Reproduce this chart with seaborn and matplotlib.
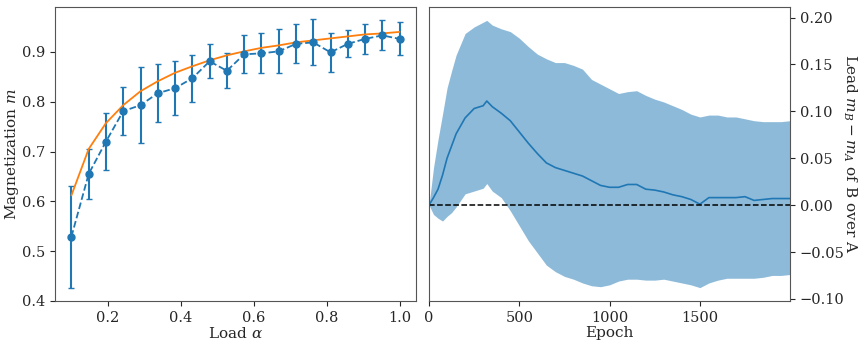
import numpy as np
import pandas as pd
import matplotlib
matplotlib.use('Agg')
import matplotlib.pyplot as plt
import seaborn as sns

# left panel: magnetization vs load
alpha = np.linspace(0.1, 1.0, 20)
m_mean = [0.529, 0.655, 0.720, 0.781, 0.793, 0.817, 0.827, 0.847, 0.881, 0.862,
          0.895, 0.897, 0.901, 0.916, 0.919, 0.899, 0.916, 0.926, 0.933, 0.926]
m_err = [0.102, 0.050, 0.057, 0.048, 0.076, 0.058, 0.054, 0.047, 0.034, 0.035,
         0.038, 0.040, 0.044, 0.039, 0.046, 0.039, 0.027, 0.030, 0.030, 0.033]
m_theory = [0.612, 0.705, 0.757, 0.793, 0.821, 0.841, 0.858, 0.871, 0.883, 0.893,
            0.901, 0.908, 0.913, 0.919, 0.923, 0.927, 0.931, 0.935, 0.937, 0.940]

# right panel: lead of B over A during training
epochs = [0, 25, 50, 75, 100, 125, 150, 200, 250, 300, 320, 350, 400, 450, 500,
          550, 600, 650, 700, 750, 800, 850, 900, 950, 1000, 1050, 1100, 1150,
          1200, 1250, 1300, 1350, 1400, 1450, 1500, 1550, 1600, 1650, 1700,
          1750, 1800, 1850, 1900, 1950, 1999]
lead_mean = [0.0, 0.008, 0.017, 0.032, 0.050, 0.063, 0.076, 0.093, 0.103, 0.106,
             0.111, 0.105, 0.098, 0.090, 0.078, 0.066, 0.055, 0.045, 0.040, 0.037,
             0.034, 0.031, 0.026, 0.021, 0.019, 0.019, 0.022, 0.022, 0.017, 0.016,
             0.014, 0.011, 0.009, 0.006, 0.001, 0.008, 0.008, 0.008, 0.008, 0.009,
             0.005, 0.006, 0.007, 0.007, 0.007]
lead_upper = [0.0, 0.040, 0.070, 0.097, 0.125, 0.143, 0.160, 0.183, 0.190, 0.195,
              0.197, 0.192, 0.188, 0.185, 0.178, 0.169, 0.161, 0.156, 0.152, 0.152,
              0.149, 0.145, 0.134, 0.129, 0.124, 0.119, 0.121, 0.122, 0.117, 0.113,
              0.110, 0.106, 0.102, 0.097, 0.094, 0.096, 0.096, 0.094, 0.094, 0.092,
              0.090, 0.089, 0.089, 0.089, 0.090]
lead_lower = [0.0, -0.010, -0.014, -0.017, -0.012, -0.008, -0.002, 0.012, 0.015, 0.018,
              0.023, 0.015, 0.008, -0.006, -0.022, -0.038, -0.051, -0.064, -0.071, -0.076,
              -0.079, -0.083, -0.086, -0.087, -0.085, -0.081, -0.079, -0.079, -0.080, -0.080,
              -0.079, -0.081, -0.083, -0.085, -0.088, -0.083, -0.080, -0.078, -0.078, -0.078,
              -0.078, -0.077, -0.075, -0.075, -0.074]

sns.set_style('ticks')
plt.rcParams['font.family'] = ['DejaVu Serif']
plt.rcParams['mathtext.fontset'] = 'dejavuserif'
plt.rcParams['font.size'] = 10.5
plt.rcParams['axes.labelsize'] = 11
plt.rcParams['axes.edgecolor'] = '#555555'

fig, (ax1, ax2) = plt.subplots(1, 2, figsize=(8.65, 3.46), dpi=100)
fig.subplots_adjust(left=55 / 865, right=790 / 865, top=1 - 7 / 346,
                    bottom=1 - 301 / 346, wspace=13 / 361)

# magnetization
ax1.errorbar(alpha, m_mean, yerr=m_err, fmt='o--', color='C0', markersize=5,
             capsize=2.5, elinewidth=1.5, lw=1.3)
sns.lineplot(x=alpha, y=m_theory, color='C1', lw=1.3, ax=ax1)
ax1.set_xlabel(r'Load $\alpha$', labelpad=1)
ax1.set_ylabel(r'Magnetization $m$', labelpad=1)
ax1.set_xticks([0.2, 0.4, 0.6, 0.8, 1.0])
ax1.set_ylim(0.4, 0.99)

# lead of B over A
ax2.fill_between(epochs, lead_lower, lead_upper, color='C0', alpha=0.5, lw=0)
sns.lineplot(x=epochs, y=lead_mean, color='C0', lw=1.2, ax=ax2)
ax2.axhline(0, color='k', ls='--', lw=1.1)
ax2.set_xlim(0, 1999)
ax2.set_xticks([0, 500, 1000, 1500])
ax2.yaxis.tick_right()
ax2.yaxis.set_label_position('right')
ax2.set_ylabel(r'Lead $m_B - m_A$ of B over A', rotation=270, labelpad=10)
ax2.set_xlabel('Epoch', labelpad=1)

plt.savefig('out.png', dpi=100)
